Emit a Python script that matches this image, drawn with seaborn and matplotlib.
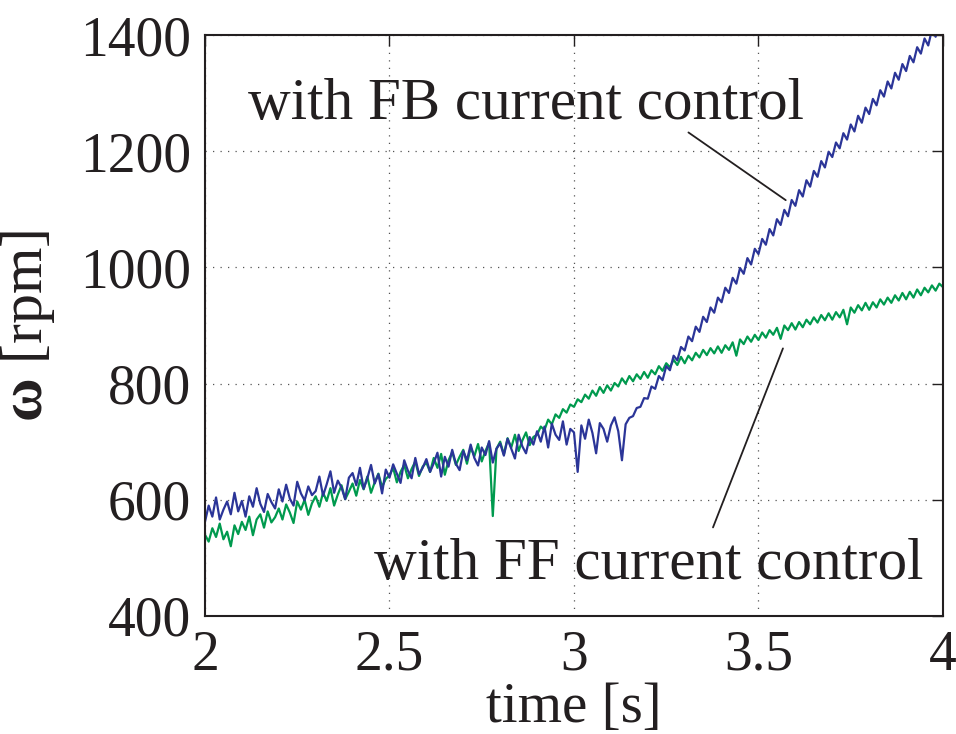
import numpy as np
import pandas as pd
import seaborn as sns
import matplotlib
matplotlib.use("Agg")
import matplotlib.pyplot as plt

# time base: 2.00 .. 4.00 s, 0.01 s step
time_s = np.round(np.arange(2.0, 4.0001, 0.01), 2)

# speed with FB current control [rpm]
speed_fb = [
    562, 590, 571, 604, 566, 583, 597, 575, 612, 580,
    598, 571, 606, 588, 620, 593, 579, 610, 596, 585,
    618, 597, 626, 602, 590, 631, 611, 599, 623, 608,
    615, 640, 607, 627, 649, 612, 633, 621, 601, 638,
    646, 625, 655, 619, 637, 660, 628, 644, 611, 652,
    638, 661, 645, 629, 668, 650, 637, 672, 644, 655,
    670, 648, 663, 681, 640, 674, 657, 686, 662, 651,
    684, 668, 695, 672, 659, 690, 677, 701, 664, 688,
    697, 676, 705, 688, 671, 712, 692, 680, 708, 695,
    718, 700, 726, 690, 731, 712, 703, 735, 695, 722,
    716, 648, 728, 705, 738, 715, 680, 732, 722, 700,
    728, 742, 718, 668, 730, 741, 744, 758, 760, 775,
    774, 795, 791, 813, 806, 830, 823, 848, 840, 863,
    857, 881, 873, 898, 889, 915, 906, 931, 922, 948,
    940, 965, 956, 982, 972, 999, 989, 1016, 1005, 1032,
    1023, 1049, 1039, 1066, 1055, 1083, 1073, 1099, 1088, 1116,
    1106, 1133, 1122, 1150, 1139, 1166, 1156, 1183, 1172, 1199,
    1190, 1215, 1205, 1231, 1220, 1246, 1234, 1261, 1249, 1275,
    1264, 1290, 1279, 1305, 1294, 1320, 1308, 1335, 1323, 1350,
    1338, 1364, 1353, 1379, 1368, 1394, 1382, 1409, 1397, 1424,
    1420,
]

# speed with FF current control [rpm]
speed_ff = [
    540, 528, 551, 536, 559, 532, 545, 520, 556, 541,
    562, 548, 571, 539, 566, 575, 552, 580, 561, 570,
    585, 566, 592, 578, 560, 597, 583, 600, 574, 594,
    606, 588, 612, 598, 620, 590, 609, 625, 601, 614,
    628, 607, 634, 618, 640, 612, 630, 645, 622, 636,
    642, 655, 630, 648, 660, 637, 653, 666, 641, 657,
    664, 648, 672, 655, 679, 643, 668, 682, 660, 674,
    686, 662, 690, 675, 696, 666, 684, 698, 572, 688,
    700, 678, 706, 690, 712, 684, 702, 716, 694, 708,
    712, 726, 720, 738, 730, 747, 741, 756, 750, 764,
    760, 773, 768, 781, 774, 788, 779, 794, 784, 797,
    788, 801, 795, 809, 800, 813, 804, 816, 808, 820,
    810, 823, 816, 830, 822, 835, 828, 841, 832, 846,
    835, 848, 840, 853, 845, 858, 849, 861, 852, 864,
    853, 866, 858, 871, 848, 876, 868, 881, 872, 884,
    875, 888, 879, 892, 884, 896, 877, 900, 892, 904,
    893, 906, 897, 910, 902, 914, 905, 918, 909, 921,
    910, 923, 914, 927, 902, 931, 922, 935, 926, 939,
    927, 940, 931, 945, 936, 948, 939, 952, 943, 956,
    945, 958, 948, 962, 952, 965, 957, 969, 960, 972,
    966,
]

x_ticks = [2, 2.5, 3, 3.5, 4]
x_tick_labels = ["2", "2.5", "3", "3.5", "4"]
y_ticks = [400, 600, 800, 1000, 1200, 1400]

df = pd.concat([
    pd.DataFrame({"time": time_s, "speed": speed_ff, "ctrl": "FF"}),
    pd.DataFrame({"time": time_s, "speed": speed_fb, "ctrl": "FB"}),
])

sns.set_style("white")
plt.rcParams["font.family"] = ["Liberation Serif", "DejaVu Serif"]
plt.rcParams["mathtext.fontset"] = "custom"
plt.rcParams["mathtext.rm"] = "Liberation Serif"
plt.rcParams["mathtext.bf"] = "Liberation Serif:bold"
plt.rcParams["mathtext.it"] = "Liberation Serif:italic"

fig = plt.figure(figsize=(9.56, 7.34), dpi=100)
ax = fig.add_axes([0.2144, 0.1608, 0.772, 0.7915])

sns.lineplot(
    data=df, x="time", y="speed", hue="ctrl",
    hue_order=["FF", "FB"],
    palette={"FF": "#009a4e", "FB": "#2b3598"},
    estimator=None, sort=False, linewidth=1.6, legend=False, ax=ax,
)

ax.set_xlim(2, 4)
ax.set_ylim(400, 1400)
ax.set_xticks(x_ticks)
ax.set_xticklabels(x_tick_labels)
ax.set_yticks(y_ticks)
ax.tick_params(direction="in", length=8, width=1, top=True, right=True,
               labelsize=40, pad=10, colors="#231f20")
ax.grid(True, linestyle=(0, (1, 5)), color="#555555", linewidth=0.9)
for s in ax.spines.values():
    s.set_color("#231f20")
    s.set_linewidth(1.5)

ax.set_xlabel("time [s]", fontsize=41, color="#231f20", labelpad=0)
ax.set_ylabel(r"$\mathbf{\omega}$ [rpm]", fontsize=43, color="#231f20")
ax.yaxis.set_label_coords(-0.2, 0.5)

# annotation leaders and labels
ax.annotate("", xy=(3.58, 1113), xytext=(3.304, 1235),
            arrowprops=dict(arrowstyle="-", color="#231f20", lw=1.3))
ax.annotate("", xy=(3.569, 865), xytext=(3.374, 548),
            arrowprops=dict(arrowstyle="-", color="#231f20", lw=1.3))
ax.text(2.87, 1280, "with FB current control", fontsize=42.5,
        ha="center", va="center", color="#231f20")
ax.text(3.203, 488, "with FF current control", fontsize=42.5,
        ha="center", va="center", color="#231f20")

fig.savefig("out.png", dpi=100)
